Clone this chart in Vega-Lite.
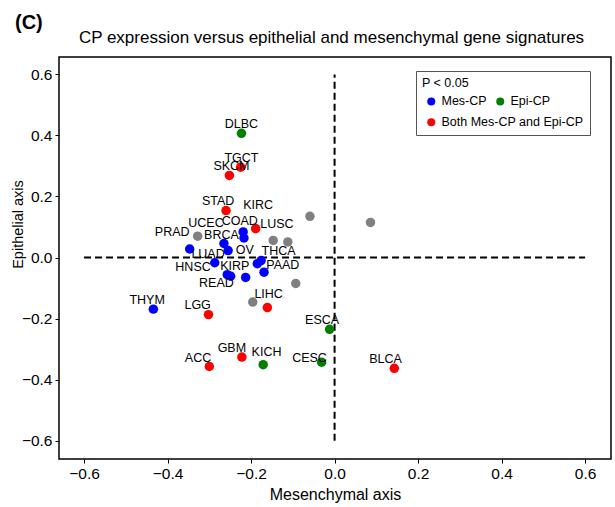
{
  "$schema": "https://vega.github.io/schema/vega-lite/v6.json",
  "autosize": {"type": "none"},
  "padding": {"left": 59, "top": 57, "right": 4, "bottom": 48},
  "width": 552,
  "height": 402,
  "title": {"text": "(C)", "anchor": "start", "frame": "group", "fontSize": 20, "fontWeight": "bold", "font": "Liberation Sans", "color": "black", "dx": -44, "offset": -5},
  "resolve": {"axis": {"x": "independent"}},
  "config": {
    "font": "Liberation Sans",
    "view": {"stroke": "black", "strokeWidth": 1.5},
    "axis": {"grid": false, "domain": false, "tickColor": "black", "tickSize": 4, "labelColor": "black", "labelFontSize": 15.5, "titleFontSize": 16, "titleFontWeight": "normal", "titleColor": "black", "labelFont": "Liberation Sans", "titleFont": "Liberation Sans", "labelPadding": 3},
    "legend": {"labelFont": "Liberation Sans", "titleFont": "Liberation Sans", "labelFontSize": 12.5, "titleFontSize": 12.5, "titleFontWeight": "normal", "titleColor": "black", "labelColor": "black", "symbolType": "circle", "symbolSize": 64, "symbolOpacity": 1, "labelOffset": 4}
  },
  "datasets": {
    "points": [
      {"name": "DLBC", "x": -0.223, "y": 0.407, "group": "Epi-CP"},
      {"name": "TGCT", "x": -0.225, "y": 0.296, "group": "Both Mes-CP and Epi-CP"},
      {"name": "SKCM", "x": -0.252, "y": 0.269, "group": "Both Mes-CP and Epi-CP"},
      {"name": "STAD", "x": -0.260, "y": 0.154, "group": "Both Mes-CP and Epi-CP"},
      {"name": "KIRC", "x": -0.059, "y": 0.135, "group": "NS"},
      {"name": "LUSC", "x": -0.189, "y": 0.095, "group": "Both Mes-CP and Epi-CP"},
      {"name": "COAD", "x": -0.219, "y": 0.084, "group": "Mes-CP"},
      {"name": "BRCA", "x": -0.217, "y": 0.064, "group": "Mes-CP"},
      {"name": "PRAD", "x": -0.328, "y": 0.070, "group": "NS"},
      {"name": "MESO", "x": -0.147, "y": 0.056, "group": "NS"},
      {"name": "SARC", "x": -0.112, "y": 0.051, "group": "NS"},
      {"name": "UCEC", "x": -0.347, "y": 0.028, "group": "Mes-CP"},
      {"name": "LUAD", "x": -0.265, "y": 0.046, "group": "Mes-CP"},
      {"name": "OV", "x": -0.255, "y": 0.023, "group": "Mes-CP"},
      {"name": "HNSC", "x": -0.287, "y": -0.017, "group": "Mes-CP"},
      {"name": "THCA", "x": -0.176, "y": -0.010, "group": "Mes-CP"},
      {"name": "KIRP", "x": -0.185, "y": -0.020, "group": "Mes-CP"},
      {"name": "PAAD", "x": -0.169, "y": -0.048, "group": "Mes-CP"},
      {"name": "READ", "x": -0.257, "y": -0.056, "group": "Mes-CP"},
      {"name": "PCPG", "x": -0.249, "y": -0.061, "group": "Mes-CP"},
      {"name": "UCS", "x": -0.213, "y": -0.065, "group": "Mes-CP"},
      {"name": "UVM", "x": -0.093, "y": -0.085, "group": "NS"},
      {"name": "CHOL", "x": -0.196, "y": -0.146, "group": "NS"},
      {"name": "THYM", "x": -0.434, "y": -0.169, "group": "Mes-CP"},
      {"name": "LIHC", "x": -0.161, "y": -0.164, "group": "Both Mes-CP and Epi-CP"},
      {"name": "LGG", "x": -0.302, "y": -0.187, "group": "Both Mes-CP and Epi-CP"},
      {"name": "ESCA", "x": -0.012, "y": -0.235, "group": "Epi-CP"},
      {"name": "GBM", "x": -0.222, "y": -0.326, "group": "Both Mes-CP and Epi-CP"},
      {"name": "KICH", "x": -0.171, "y": -0.351, "group": "Epi-CP"},
      {"name": "ACC", "x": -0.300, "y": -0.357, "group": "Both Mes-CP and Epi-CP"},
      {"name": "CESC", "x": -0.031, "y": -0.343, "group": "Epi-CP"},
      {"name": "BLCA", "x": 0.143, "y": -0.363, "group": "Both Mes-CP and Epi-CP"},
      {"name": "SKCM-M", "x": 0.086, "y": 0.115, "group": "NS"}
    ],
    "labels": [
      {"name": "DLBC", "x": -0.223, "y": 0.438},
      {"name": "TGCT", "x": -0.223, "y": 0.325},
      {"name": "SKCM", "x": -0.247, "y": 0.299},
      {"name": "STAD", "x": -0.279, "y": 0.184},
      {"name": "KIRC", "x": -0.183, "y": 0.171},
      {"name": "UCEC", "x": -0.308, "y": 0.113},
      {"name": "COAD", "x": -0.227, "y": 0.121},
      {"name": "LUSC", "x": -0.138, "y": 0.111},
      {"name": "PRAD", "x": -0.389, "y": 0.084},
      {"name": "BRCA", "x": -0.271, "y": 0.073},
      {"name": "LUAD", "x": -0.303, "y": 0.013},
      {"name": "OV", "x": -0.215, "y": 0.026},
      {"name": "THCA", "x": -0.134, "y": 0.023},
      {"name": "HNSC", "x": -0.339, "y": -0.031},
      {"name": "KIRP", "x": -0.239, "y": -0.029},
      {"name": "PAAD", "x": -0.124, "y": -0.026},
      {"name": "READ", "x": -0.283, "y": -0.085},
      {"name": "LIHC", "x": -0.158, "y": -0.121},
      {"name": "THYM", "x": -0.449, "y": -0.140},
      {"name": "LGG", "x": -0.328, "y": -0.157},
      {"name": "ESCA", "x": -0.030, "y": -0.205},
      {"name": "GBM", "x": -0.246, "y": -0.295},
      {"name": "KICH", "x": -0.163, "y": -0.309},
      {"name": "ACC", "x": -0.327, "y": -0.328},
      {"name": "CESC", "x": -0.060, "y": -0.330},
      {"name": "BLCA", "x": 0.122, "y": -0.333}
    ],
    "lines": [
      {"x": 0, "x2": 0, "y": -0.6, "y2": 0.6},
      {"x": -0.6, "x2": 0.6, "y": 0, "y2": 0}
    ]
  },
  "layer": [
    {
      "data": {"name": "lines"},
      "mark": {"type": "rule", "color": "black", "strokeWidth": 2, "strokeDash": [7, 4]},
      "encoding": {
        "x": {"field": "x", "type": "quantitative", "scale": {"domain": [-0.66, 0.662], "nice": false, "zero": false},
          "axis": {"orient": "bottom", "title": "Mesenchymal axis", "values": [-0.6, -0.4, -0.2, 0, 0.2, 0.4, 0.6], "format": ".1f", "labelExpr": "replace(datum.label, '-', '−')", "titlePadding": 5}},
        "x2": {"field": "x2"},
        "y": {"field": "y", "type": "quantitative", "scale": {"domain": [-0.66, 0.657], "nice": false, "zero": false},
          "axis": {"title": "Epithelial axis", "titleFontSize": 14.5, "titleX": -34, "titleY": 167, "values": [-0.6, -0.4, -0.2, 0, 0.2, 0.4, 0.6], "format": ".1f", "labelExpr": "replace(datum.label, '-', '−')"}},
        "y2": {"field": "y2"}
      }
    },
    {
      "data": {"name": "points"},
      "mark": {"type": "point", "filled": true, "size": 90, "opacity": 1},
      "encoding": {
        "x": {"field": "x", "type": "quantitative", "axis": {"orient": "top", "title": "CP expression versus epithelial and mesenchymal gene signatures", "labels": false, "ticks": false, "domain": false, "titleFontSize": 17, "titlePadding": 11, "titleX": 272}},
        "y": {"field": "y", "type": "quantitative"},
        "color": {"field": "group", "type": "nominal",
          "scale": {"domain": ["Mes-CP", "Epi-CP", "Both Mes-CP and Epi-CP", "NS"], "range": ["#0000ff", "#008000", "#ff0000", "#808080"]},
          "legend": {"title": null, "values": ["Mes-CP", "Epi-CP"], "orient": "none", "direction": "horizontal", "legendX": 366, "legendY": 38, "columnPadding": 7, "padding": 0}
        },
        "shape": {"datum": "Both Mes-CP and Epi-CP", "type": "nominal",
          "scale": {"range": ["circle"]},
          "legend": {"title": ["P < 0.05", "\u00a0"], "orient": "none", "legendX": 357, "legendY": 14, "padding": 6, "symbolOffset": 3, "titleLineHeight": 20.5, "titlePadding": 6, "symbolFillColor": "#ff0000", "symbolStrokeColor": "#ff0000", "symbolStrokeWidth": 0, "strokeColor": "#555555", "fillColor": null,
            "encoding": {"title": {"update": {"dx": {"value": 6}}}}}
        }
      }
    },
    {
      "data": {"name": "labels"},
      "mark": {"type": "text", "fontSize": 12.5, "color": "black", "align": "center", "baseline": "middle"},
      "encoding": {
        "x": {"field": "x", "type": "quantitative", "axis": null},
        "y": {"field": "y", "type": "quantitative"},
        "text": {"field": "name"}
      }
    }
  ]
}
